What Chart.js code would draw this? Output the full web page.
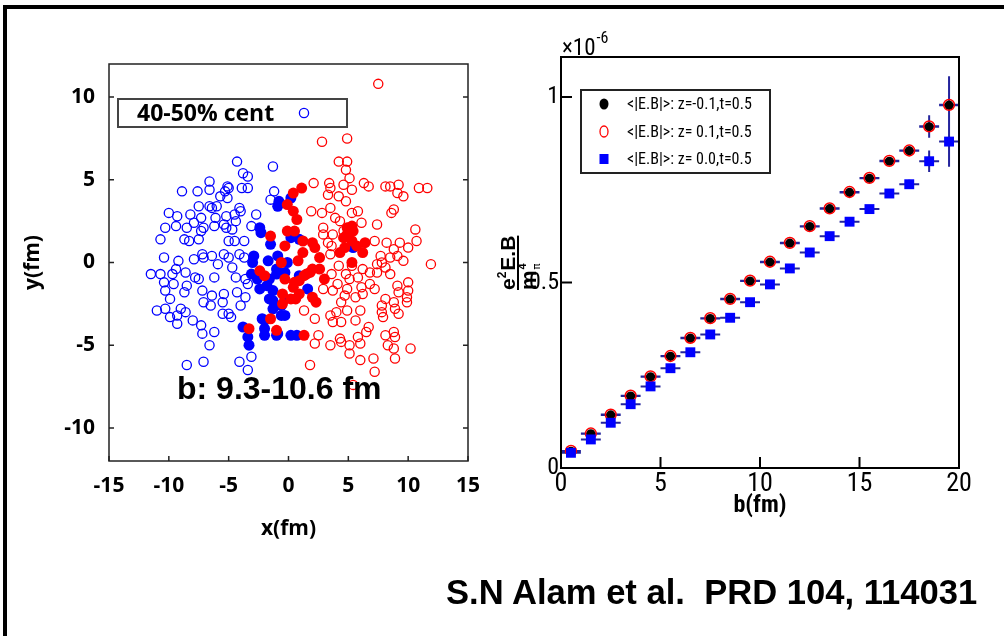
<!DOCTYPE html>
<html>
<head>
<meta charset="utf-8">
<script src="https://cdn.jsdelivr.net/npm/chart.js"></script>
<style>
  body { margin: 0; background: #fff; }
  #page { position: relative; width: 1004px; height: 636px; overflow: hidden; background: #fff; }
  #frame { position: absolute; left: 3px; top: 5px; width: 1001px; height: 631px; border-top: 4px solid #000; border-left: 4px solid #000; box-sizing: border-box; }
  canvas { position: absolute; top: 0; }
  .note { position: absolute; white-space: pre; color: #000; font-weight: bold; line-height: 1; }
</style>
</head>
<body>
<div id="page">
  <div id="frame"></div>
  <canvas id="left" width="490" height="636" style="left:0"></canvas>
  <canvas id="right" width="514" height="636" style="left:490px"></canvas>
  <div class="note" style="left:177px;top:370px;font:bold 32px 'Liberation Sans', Arial, sans-serif;">b: 9.3-10.6 fm</div>
  <div class="note" style="left:446px;top:573px;font:bold 34.6px 'Liberation Sans', Arial, sans-serif;">S.N Alam et al.  PRD 104, 114031</div>
</div>
<script>
// left panel: participant positions (fm)
const blueOpen = [
  [-4.3,6.1],[-1.3,5.8],[-3.8,5.4],[-3.4,5.2],[-8.9,4.3],[-7.6,4.3],[-6.6,4.9],[-6.6,4.4],[-5.1,4.6],[-5.0,4.5],
  [-5.3,4.3],[-5.7,4.0],[-5.1,3.9],[-3.9,4.5],[-3.4,4.5],[-1.2,4.3],[-1.5,3.8],[-10.0,3.0],[-9.3,2.8],[-8.2,2.9],
  [-7.5,3.4],[-6.6,3.4],[-6.4,3.3],[-6.0,3.4],[-7.3,2.7],[-6.1,2.7],[-5.2,2.8],[-4.5,2.9],[-4.1,3.3],[-4.0,3.1],
  [-2.7,2.9],[-10.3,2.1],[-9.4,2.2],[-7.9,2.4],[-7.1,2.1],[-6.2,2.2],[-5.4,2.3],[-4.4,2.5],[-3.1,2.2],[-8.5,2.1],
  [-7.3,1.9],[-5.2,2.1],[-4.7,2.0],[-10.7,1.4],[-8.7,1.4],[-8.3,1.3],[-7.5,1.4],[-5.0,1.3],[-4.5,1.3],[-3.7,1.3],
  [-10.4,0.3],[-9.2,0.1],[-7.9,0.2],[-7.2,0.5],[-7.1,0.3],[-6.4,0.4],[-5.4,0.5],[-5.0,0.3],[-5.9,-0.1],[-4.7,-0.3],
  [-4.1,0.5],[-3.7,0.3],[-11.5,-0.7],[-10.7,-0.7],[-9.7,-0.7],[-9.4,-0.4],[-8.6,-0.6],[-7.8,-0.9],[-7.5,-1.0],[-6.2,-0.9],
  [-4.4,-0.9],[-3.6,-1.0],[-10.4,-1.2],[-9.6,-1.3],[-8.5,-1.4],[-7.2,-1.7],[-6.4,-2.0],[-5.4,-1.9],[-10.3,-1.7],[-8.7,-1.8],
  [-4.3,-1.8],[-9.9,-2.2],[-9.0,-2.8],[-7.1,-2.4],[-5.5,-2.4],[-4.0,-2.6],[-3.6,-2.1],[-3.4,-1.3],[-11.0,-2.9],[-10.3,-2.8],
  [-9.9,-3.3],[-9.3,-3.2],[-8.6,-3.0],[-8.0,-3.5],[-7.3,-3.8],[-6.5,-2.6],[-5.5,-3.1],[-5.0,-3.1],[-4.8,-3.3],[-9.3,-3.7],
  [-7.2,-4.3],[-6.2,-4.2],[-6.6,-5.0],[-8.5,-6.2],[-7.1,-6.0],[-4.1,-6.0],[-3.1,-5.7],[-3.4,-6.5]
];
const redOpen = [
  [7.5,10.8],[2.8,7.3],[4.9,7.5],[4.2,6.1],[4.9,6.1],[4.8,5.6],[5.1,5.1],[2.1,4.8],[3.4,4.8],[3.5,4.5],
  [4.6,4.7],[5.3,4.4],[6.3,4.8],[6.7,4.6],[8.1,4.6],[8.5,4.6],[9.2,4.7],[9.1,4.2],[9.6,4.0],[10.9,4.5],
  [11.6,4.5],[3.3,4.1],[4.2,4.0],[4.8,3.7],[1.9,3.1],[2.8,3.0],[3.5,3.3],[3.9,2.7],[4.3,2.5],[5.3,3.0],
  [5.8,3.1],[6.1,2.4],[7.4,2.3],[8.6,3.0],[8.8,3.2],[10.6,2.0],[2.9,2.1],[4.6,1.9],[10.7,1.3],[9.3,1.2],
  [10.0,0.9],[3.5,0.5],[3.6,1.0],[3.3,1.2],[2.9,1.7],[3.7,1.7],[7.2,1.3],[8.2,1.2],[8.8,0.8],[7.7,0.4],
  [8.5,0.3],[9.1,0.4],[9.6,0.1],[7.8,0.0],[7.4,-0.1],[8.1,-0.3],[11.9,-0.1],[4.2,-0.2],[5.3,-0.2],[6.2,-0.4],
  [6.8,-0.6],[7.4,-0.6],[8.5,-0.7],[3.6,-0.7],[4.8,-0.7],[5.1,-1.0],[5.8,-0.9],[6.1,-1.5],[6.8,-1.3],[7.2,-1.6],
  [2.9,-1.6],[3.7,-1.7],[4.1,-1.3],[4.9,-1.6],[9.1,-1.4],[10.0,-1.2],[10.0,-1.7],[9.2,-1.8],[9.9,-2.1],[5.6,-2.1],
  [6.2,-1.9],[4.7,-2.0],[4.4,-2.4],[8.1,-2.2],[8.8,-2.4],[9.9,-2.4],[7.8,-2.6],[7.8,-3.0],[7.9,-3.3],[8.9,-2.8],
  [1.3,-2.9],[2.2,-3.4],[4.9,-2.9],[6.0,-2.9],[4.0,-3.0],[3.5,-3.2],[3.7,-3.6],[4.4,-3.6],[5.6,-3.5],[9.2,-3.1],
  [6.7,-3.9],[6.5,-4.2],[8.1,-4.4],[8.8,-4.2],[8.9,-4.5],[2.5,-4.4],[2.2,-4.9],[3.5,-5.0],[4.3,-4.6],[4.4,-4.8],
  [5.1,-5.0],[5.1,-5.5],[5.8,-4.5],[6.0,-4.9],[8.3,-5.0],[8.8,-5.2],[10.2,-5.2],[7.1,-5.8],[8.9,-5.8],[6.0,-5.9],
  [1.8,-6.2],[7.2,-6.6],[5.4,-7.4]
];
const blueFilled = [
  [-0.8,3.7],[-0.9,3.4],[0.2,3.9],[-2.3,1.8],[-2.4,2.1],[-1.5,1.1],[0.2,1.5],[0.9,1.4],[-2.9,0.4],[-3.0,0.0],
  [-1.7,0.1],[-0.9,0.4],[-0.1,0.0],[-3.1,-0.7],[-1.6,-1.0],[-1.0,-0.7],[-1.0,-0.4],[-0.3,-0.6],[-2.4,-1.6],[-2.6,-1.0],
  [-1.8,-1.4],[-1.3,-1.7],[-1.3,-2.3],[-1.6,-2.2],[-0.3,-2.2],[-0.6,-2.6],[1.6,-1.6],[0.9,-0.8],[-1.3,-2.8],[-0.6,-3.2],
  [-0.3,-3.2],[-2.0,-3.5],[-2.2,-3.4],[-2.0,-4.0],[-2.0,-4.4],[-0.9,-4.3],[-1.0,-4.4],[-3.8,-3.9],[-3.4,-4.5],[-3.3,-5.0],
  [0.7,-4.4],[0.2,-4.4],[5.4,0.9]
];
const redFilled = [
  [1.1,4.5],[0.4,4.2],[-0.1,3.5],[0.4,3.1],[0.7,2.6],[-0.1,1.9],[0.5,1.9],[-1.5,1.6],[-0.3,1.0],[1.2,1.3],
  [2.0,1.2],[2.2,0.9],[1.2,0.6],[4.9,1.7],[5.4,1.9],[4.9,2.1],[5.3,2.2],[5.3,1.3],[4.6,1.5],[4.7,0.9],
  [5.7,1.0],[6.4,1.2],[6.2,0.6],[4.3,0.6],[5.3,0.0],[2.6,0.3],[0.8,0.1],[-0.6,0.0],[-2.4,-0.5],[-2.0,-0.8],
  [-0.3,-1.0],[2.0,-0.4],[2.6,-0.4],[1.5,-0.7],[1.8,-0.6],[1.3,-0.8],[0.9,-1.1],[0.5,-1.2],[0.4,-1.5],[0.9,-1.9],
  [0.2,-2.2],[0.6,-2.2],[-0.5,-1.9],[-0.5,-2.5],[2.0,-2.1],[2.3,-2.4],[3.0,-1.0],[-1.5,-3.4],[-1.0,-4.1],[-3.3,-4.0],
  [1.3,-4.4]
];
const xTicksLeft = [-15, -10, -5, 0, 5, 10, 15];
const yTicksLeft = [-10, -5, 0, 5, 10];

// right panel: <|E.B|> in units of 1e-6 vs impact parameter b (fm)
const bValues = [0.5, 1.5, 2.5, 3.5, 4.5, 5.5, 6.5, 7.5, 8.5, 9.5, 10.5, 11.5, 12.5, 13.5, 14.5, 15.5, 16.5, 17.5, 18.5, 19.5];
const ebZneg = [0.045, 0.092, 0.143, 0.194, 0.246, 0.301, 0.350, 0.403, 0.455, 0.504, 0.555, 0.606, 0.651, 0.699, 0.743, 0.781, 0.827, 0.855, 0.920, 0.978];
const ebZpos = [0.046, 0.093, 0.144, 0.195, 0.247, 0.302, 0.351, 0.404, 0.456, 0.505, 0.556, 0.607, 0.652, 0.700, 0.744, 0.782, 0.828, 0.856, 0.921, 0.979];
const ebZzero = [0.041, 0.077, 0.122, 0.172, 0.220, 0.269, 0.312, 0.360, 0.405, 0.447, 0.495, 0.538, 0.581, 0.625, 0.664, 0.698, 0.740, 0.765, 0.827, 0.880];
const errZneg = [0.004, 0.004, 0.004, 0.004, 0.004, 0.004, 0.004, 0.004, 0.005, 0.005, 0.005, 0.006, 0.006, 0.007, 0.008, 0.009, 0.010, 0.012, 0.030, 0.077];
const errZpos = [0.004, 0.004, 0.004, 0.004, 0.004, 0.004, 0.004, 0.004, 0.005, 0.005, 0.005, 0.006, 0.006, 0.007, 0.008, 0.009, 0.010, 0.012, 0.030, 0.077];
const errZzero = [0.004, 0.004, 0.004, 0.004, 0.004, 0.004, 0.004, 0.004, 0.005, 0.005, 0.005, 0.006, 0.006, 0.007, 0.008, 0.009, 0.010, 0.012, 0.029, 0.068];
const bHalfWidth = 0.5;
const bTicks = [0, 5, 10, 15, 20];
const ebTicks = [0, 0.5, 1];
const ebTickLabels = ['0', '0.5', '1'];

const BOLD = "'Open Sans', 'Noto Sans', sans-serif";
const BLUE = '#0000ff', RED = '#ff0000';

// the right panel uses a narrow Helvetica; take one if installed, else shrink Liberation Sans
function hasFont(name) {
  const c = document.createElement('canvas').getContext('2d');
  const s = 'mmmmmmmmmmlli1WQ@#0123';
  const w = f => { c.font = f; return c.measureText(s).width; };
  return w('40px monospace') !== w(`40px '${name}', monospace`) ||
         w('40px serif') !== w(`40px '${name}', serif`);
}
const narrowName = ['Liberation Sans Narrow', 'Arial Narrow', 'Nimbus Sans Narrow', 'Roboto Condensed'].find(hasFont);
const NARROW = narrowName ? `'${narrowName}', 'Liberation Sans', sans-serif` : "'Liberation Sans', Arial, sans-serif";
const nsz = s => Math.round(s * (narrowName ? 1 : 0.84) * 10) / 10;

const toPts = arr => arr.map(p => ({ x: p[0], y: p[1] }));

// ROOT-like frame with inward ticks
const rootFrame = {
  id: 'rootFrame',
  afterDatasetsDraw(chart, args, o) {
    const { ctx, chartArea: a, scales } = chart;
    ctx.save();
    ctx.strokeStyle = o.color;
    ctx.lineWidth = o.width;
    ctx.strokeRect(a.left, a.top, a.right - a.left, a.bottom - a.top);
    ctx.beginPath();
    scales.x.ticks.forEach(t => {
      const px = scales.x.getPixelForValue(t.value);
      ctx.moveTo(px, a.bottom);
      ctx.lineTo(px, a.bottom - o.len);
    });
    scales.y.ticks.forEach(t => {
      const py = scales.y.getPixelForValue(t.value);
      ctx.moveTo(a.left, py);
      ctx.lineTo(a.left + o.len, py);
      if (o.right) {
        ctx.moveTo(a.right, py);
        ctx.lineTo(a.right - o.len, py);
      }
    });
    ctx.stroke();
    ctx.restore();
  }
};

const leftLegend = {
  id: 'leftLegend',
  afterDraw(chart, args, o) {
    const ctx = chart.ctx;
    const ds = chart.data.datasets[0];
    ctx.save();
    ctx.fillStyle = '#fff';
    ctx.fillRect(o.x, o.y, o.w, o.h);
    ctx.strokeStyle = '#444';
    ctx.lineWidth = 2;
    ctx.strokeRect(o.x, o.y, o.w, o.h);
    ctx.fillStyle = '#000';
    ctx.font = 'bold 23px ' + BOLD;
    ctx.textBaseline = 'middle';
    ctx.fillText(ds.label, o.x + 19, o.y + o.h / 2 + 1);
    ctx.strokeStyle = ds.borderColor;
    ctx.lineWidth = ds.borderWidth;
    ctx.beginPath();
    ctx.arc(o.x + 186, o.y + o.h / 2, ds.pointRadius, 0, Math.PI * 2);
    ctx.stroke();
    ctx.restore();
  }
};

const errorBars = {
  id: 'errorBars',
  beforeDatasetsDraw(chart, args, o) {
    const { ctx, scales: { x, y } } = chart;
    ctx.save();
    ctx.strokeStyle = o.color;
    ctx.lineWidth = o.width;
    ctx.beginPath();
    chart.data.datasets.forEach(ds => {
      if (!ds.errors) return;
      ds.data.forEach((p, i) => {
        const px = x.getPixelForValue(p.x), py = y.getPixelForValue(p.y);
        ctx.moveTo(x.getPixelForValue(p.x - bHalfWidth), py);
        ctx.lineTo(x.getPixelForValue(p.x + bHalfWidth), py);
        ctx.moveTo(px, y.getPixelForValue(p.y - ds.errors[i]));
        ctx.lineTo(px, y.getPixelForValue(p.y + ds.errors[i]));
      });
    });
    ctx.stroke();
    ctx.restore();
  }
};

const rightLegend = {
  id: 'rightLegend',
  afterDraw(chart, args, o) {
    const ctx = chart.ctx;
    ctx.save();
    ctx.fillStyle = '#fff';
    ctx.fillRect(o.x, o.y, o.w, o.h);
    ctx.strokeStyle = '#222';
    ctx.lineWidth = 2;
    ctx.strokeRect(o.x, o.y, o.w, o.h);
    ctx.font = nsz(16) + 'px ' + NARROW;
    ctx.textBaseline = 'middle';
    chart.data.datasets.forEach((ds, i) => {
      const cy = o.y + 14 + i * 27.5, mx = o.x + 23;
      ctx.beginPath();
      if (ds.pointStyle === 'rect') {
        ctx.fillStyle = ds.backgroundColor;
        ctx.fillRect(mx - 4.5, cy - 5, 9, 10);
      } else if (ds.backgroundColor === 'transparent') {
        ctx.strokeStyle = ds.borderColor;
        ctx.lineWidth = 1.3;
        ctx.ellipse(mx, cy, 4, 5.5, 0, 0, Math.PI * 2);
        ctx.stroke();
      } else {
        ctx.fillStyle = ds.backgroundColor;
        ctx.ellipse(mx, cy, 4.5, 5.5, 0, 0, Math.PI * 2);
        ctx.fill();
      }
      ctx.fillStyle = '#000';
      ctx.fillText(ds.label, o.x + 46, cy + 1);
    });
    ctx.restore();
  }
};

// y title e^2 E.B / m_pi^4 and the x10^-6 exponent
const rightTexts = {
  id: 'rightTexts',
  afterDraw(chart) {
    const ctx = chart.ctx;
    const a = chart.chartArea;
    ctx.save();
    ctx.fillStyle = '#000';
    ctx.textBaseline = 'alphabetic';
    ctx.font = nsz(23) + 'px ' + NARROW;
    ctx.fillText('\u00d710', a.left + 1, a.top - 2);
    const w = ctx.measureText('\u00d710').width;
    ctx.font = nsz(16) + 'px ' + NARROW;
    ctx.fillText('-6', a.left + 2 + w, a.top - 14);

    ctx.translate(25, 290);
    ctx.rotate(-Math.PI / 2);
    let cx = 0;
    ctx.font = "bold 21px 'Liberation Sans', Arial, sans-serif";
    ctx.fillText('e', cx, 0);
    cx += ctx.measureText('e').width;
    ctx.font = "bold 12px 'Liberation Sans', Arial, sans-serif";
    ctx.fillText('2', cx, -9);
    cx += ctx.measureText('2').width + 1;
    ctx.font = "bold 21px 'Liberation Sans', Arial, sans-serif";
    ctx.fillText('E.B', cx, 0);
    cx += ctx.measureText('E.B').width;
    ctx.fillRect(0, 2, cx, 2);
    ctx.font = "bold 22px 'Liberation Sans', Arial, sans-serif";
    ctx.fillText('m', 0, 21);
    const mw = ctx.measureText('m').width;
    ctx.font = "bold 11px 'Liberation Sans', Arial, sans-serif";
    ctx.fillText('4', mw + 1, 11);
    ctx.font = "10px 'DejaVu Sans', sans-serif";
    ctx.fillText('\u03c0', mw + 1, 25);
    ctx.restore();
  }
};

const leftChart = new Chart(document.getElementById('left'), {
  type: 'scatter',
  data: {
    datasets: [
      { label: '40-50% cent', data: toPts(blueOpen), order: 3, pointRadius: 4.6, borderWidth: 1.3,
        borderColor: BLUE, backgroundColor: 'transparent' },
      { label: 'red open', data: toPts(redOpen), order: 2, pointRadius: 4.6, borderWidth: 1.3,
        borderColor: RED, backgroundColor: 'transparent' },
      { label: 'blue filled', data: toPts(blueFilled), order: 1, pointRadius: 5.5, borderWidth: 0,
        borderColor: BLUE, backgroundColor: BLUE },
      { label: 'red filled', data: toPts(redFilled), order: 0, pointRadius: 5.5, borderWidth: 0,
        borderColor: RED, backgroundColor: RED }
    ]
  },
  options: {
    responsive: false,
    animation: false,
    devicePixelRatio: 1,
    layout: { padding: { left: 0, right: 22, top: 64, bottom: 85 } },
    plugins: {
      legend: { display: false },
      tooltip: { enabled: false },
      rootFrame: { color: '#222', width: 1.5, len: 5, right: true },
      leftLegend: { x: 118, y: 99, w: 229, h: 28 }
    },
    scales: {
      x: {
        type: 'linear', min: -15, max: 15,
        afterBuildTicks: s => { s.ticks = xTicksLeft.map(v => ({ value: v })); },
        afterFit: s => { s.height = 90; s.paddingLeft = 0; s.paddingRight = 0; },
        grid: { display: false, drawTicks: false },
        border: { display: false },
        ticks: { padding: 12, autoSkip: false, maxRotation: 0, color: '#000',
          font: { family: BOLD, weight: 'bold', size: 21 } },
        title: { display: true, text: 'x(fm)', color: '#000',
          font: { family: BOLD, weight: 'bold', size: 21 }, padding: { top: 0, bottom: 9 } }
      },
      y: {
        type: 'linear', min: -12, max: 12,
        afterBuildTicks: s => { s.ticks = yTicksLeft.map(v => ({ value: v })); },
        afterFit: s => { s.width = 109; s.paddingTop = 0; s.paddingBottom = 0; },
        grid: { display: false, drawTicks: false },
        border: { display: false },
        ticks: { padding: 14, autoSkip: false, color: '#000',
          font: { family: BOLD, weight: 'bold', size: 21 } },
        title: { display: true, text: 'y(fm)', color: '#000',
          font: { family: BOLD, weight: 'bold', size: 21 }, padding: { top: 20, bottom: 0 } }
      }
    }
  },
  plugins: [rootFrame, leftLegend]
});

const rightChart = new Chart(document.getElementById('right'), {
  type: 'scatter',
  data: {
    datasets: [
      { label: '<|E.B|>: z=-0.1,t=0.5', errors: errZneg, order: 2,
        data: bValues.map((b, i) => ({ x: b, y: ebZneg[i] })),
        pointStyle: 'circle', pointRadius: 4.6, borderWidth: 0, backgroundColor: '#000', borderColor: '#000' },
      { label: '<|E.B|>: z= 0.1,t=0.5', errors: errZpos, order: 1,
        data: bValues.map((b, i) => ({ x: b, y: ebZpos[i] })),
        pointStyle: 'circle', pointRadius: 5.4, borderWidth: 1.5, backgroundColor: 'transparent', borderColor: RED },
      { label: '<|E.B|>: z= 0.0,t=0.5', errors: errZzero, order: 0,
        data: bValues.map((b, i) => ({ x: b, y: ebZzero[i] })),
        pointStyle: 'rect', pointRadius: 7, borderWidth: 0, backgroundColor: BLUE, borderColor: BLUE }
    ]
  },
  options: {
    responsive: false,
    animation: false,
    devicePixelRatio: 1,
    layout: { padding: { left: 0, right: 45, top: 57, bottom: 78 } },
    plugins: {
      legend: { display: false },
      tooltip: { enabled: false },
      rootFrame: { color: '#000', width: 2, len: 11, right: false },
      errorBars: { color: '#24249c', width: 2 },
      rightLegend: { x: 91, y: 90, w: 189, h: 83 }
    },
    scales: {
      x: {
        type: 'linear', min: 0, max: 20,
        afterBuildTicks: s => { s.ticks = bTicks.map(v => ({ value: v })); },
        afterFit: s => { s.height = 90; s.paddingLeft = 0; s.paddingRight = 0; },
        grid: { display: false, drawTicks: false },
        border: { display: false },
        ticks: { padding: 1, autoSkip: false, maxRotation: 0, color: '#000',
          font: { family: NARROW, size: nsz(26) } },
        title: { display: true, text: 'b(fm)', color: '#000',
          font: { family: NARROW, weight: 'bold', size: nsz(24) }, padding: { top: 0, bottom: 38 } }
      },
      y: {
        type: 'linear', min: 0, max: 1.108,
        afterBuildTicks: s => { s.ticks = ebTicks.map(v => ({ value: v })); },
        afterFit: s => { s.width = 71; s.paddingTop = 0; s.paddingBottom = 0; },
        grid: { display: false, drawTicks: false },
        border: { display: false },
        ticks: { padding: 2, autoSkip: false, color: '#000',
          font: { family: NARROW, size: nsz(24) },
          callback: (v, i) => ebTickLabels[i] }
      }
    }
  },
  plugins: [errorBars, rootFrame, rightLegend, rightTexts]
});
</script>
</body>
</html>
